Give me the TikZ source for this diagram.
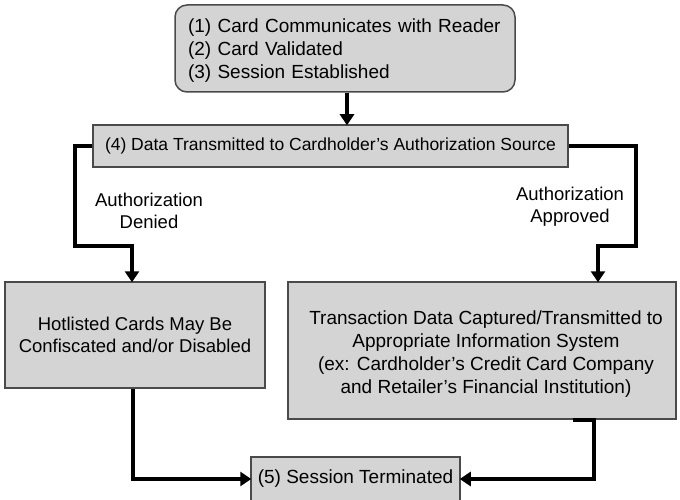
\documentclass[tikz,border=0pt]{standalone}
\usepackage{fontspec}
\setmainfont{Liberation Sans}
\usetikzlibrary{arrows.meta,calc}
\definecolor{boxfill}{HTML}{D4D4D4}
\definecolor{boxline}{HTML}{4A4A4A}
\tikzset{
  box/.style={draw=boxline, line width=1.5pt, fill=boxfill, inner sep=0pt},
  big/.style={font=\fontsize{19}{23}\selectfont},
  small/.style={font=\fontsize{17.5}{22}\selectfont},
  mid/.style={font=\fontsize{18.5}{22}\selectfont},
  conn/.style={line width=4.5pt, line join=miter, -{Triangle[width=14pt,length=11pt]}, shorten >=-1pt},
  lbl/.style={font=\fontsize{18.5}{22}\selectfont, align=center}
}
\begin{document}
\begin{tikzpicture}[x=1pt,y=-1pt]
\useasboundingbox (0,0) rectangle (680,500);
\node[box, rounded corners=12pt, minimum width=340pt, minimum height=87pt] (top) at (345,48.5) {};
\node[big, align=left, text width=314pt, inner sep=0pt] (toptext) at (345,51)
  {(1) Card Communicates with Reader\\(2) Card Validated\\(3) Session Established};
\node[box, small, minimum width=475pt, minimum height=42pt] (auth) at (330.5,146)
  {(4) Data Transmitted to Cardholder's Authorization Source};
\node[box, mid, minimum width=260pt, minimum height=106pt, align=center] (hot) at (135,335)
  {Hotlisted Cards May Be\\Confiscated and/or Disabled};
\node[box, minimum width=388pt, minimum height=137pt] (trans) at (482,350.5) {};
\node[big, align=center, inner sep=0pt] (transtext) at (486,354)
  {Transaction Data Captured/Transmitted to\\Appropriate Information System\\(ex: Cardholder's Credit Card Company\\and Retailer's Financial Institution)};
\node[box, big, minimum width=209pt, minimum height=44pt] (end) at (355.5,479)
  {(5) Session Terminated};
\node[lbl] (deny) at (149,211) {Authorization\\Denied};
\node[lbl] (appr) at (570,207) {Authorization\\Approved};
\coordinate (t1) at (347,0);
\coordinate (l1) at (75,246);
\coordinate (l2) at (132,246);
\coordinate (r1) at (636,246);
\coordinate (r2) at (598,246);
\coordinate (b1) at (573,420);
\coordinate (b2) at (594,479);
\coordinate (a1) at (133,479);
\draw[conn] (t1 |- top.south) -- (t1 |- auth.north);
\draw[conn] (auth.west) -| (l1) -- (l2) -- (l2 |- hot.north);
\draw[conn] (auth.east) -| (r1) -- (r2) -- (r2 |- trans.north);
\draw[conn] (b1) -| (b2) -- (end.east);
\draw[conn] (a1 |- hot.south) -- (a1) -- (end.west);
\end{tikzpicture}
\end{document}
